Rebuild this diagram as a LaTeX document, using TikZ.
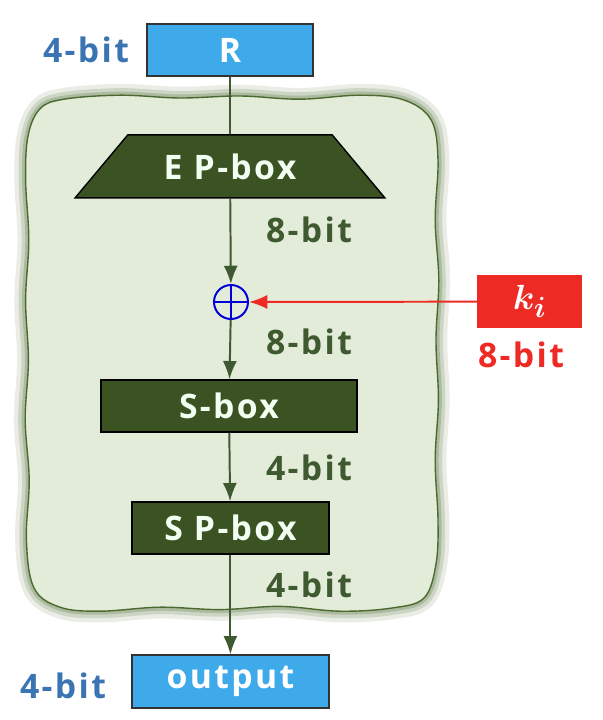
\documentclass[tikz,border=0pt]{standalone}
\usepackage{amsmath,amssymb}
\usepackage{fontspec}
\setmainfont{Open Sans}[LetterSpace=7]
\usepackage{xcolor}
\usepackage{tikz}
\usetikzlibrary{shapes.geometric,arrows.meta,positioning,calc}
\definecolor{boxblue}{HTML}{3FAAEA}
\definecolor{txtblue}{HTML}{3A74B2}
\definecolor{boxgreen}{HTML}{3B5323}
\definecolor{txtgreen}{HTML}{3F5A31}
\definecolor{bggreen}{HTML}{E3ECD8}
\definecolor{edgegreen}{HTML}{4B6A2F}
\definecolor{keyred}{HTML}{EE2A24}
\tikzstyle{iobox} = [rectangle, draw=black!80, line width=1pt, fill=boxblue, text=white, font=\bfseries\fontsize{24}{27}\selectfont]
\tikzstyle{stagebox} = [rectangle, draw=black, line width=1pt, fill=boxgreen, text=white!95!green, minimum height=1.3cm, font=\bfseries\fontsize{24}{27}\selectfont]
\tikzstyle{bits} = [font=\bfseries\fontsize{24}{27}\selectfont, text=txtgreen]
\tikzstyle{flow} = [draw=txtgreen, line width=1.4pt]
\tikzstyle{glow} = [preaction={draw=edgegreen, line width=16pt, opacity=0.12},
                    preaction={draw=edgegreen, line width=10pt, opacity=0.18},
                    preaction={draw=edgegreen, line width=5pt, opacity=0.25}]

\begin{document}
\begin{tikzpicture}
    \useasboundingbox (0,0) rectangle (15.075,18);

    % wavy frame
    \draw[glow, edgegreen, line width=1pt, fill=bggreen]
        plot[smooth cycle, tension=0.6] coordinates {
        (1.6,15.52) (3,15.62) (4.5,15.55) (6,15.6) (7.5,15.52) (9,15.62) (10.1,15.5)
        (10.78,15.0) (10.95,14) (10.88,12.5) (10.97,11) (10.9,9.5) (10.96,8) (10.88,6.5)
        (10.95,5) (10.9,3.9) (10.6,3.05) (9.8,2.8) (8.5,2.72) (7,2.84) (5.5,2.76)
        (4,2.82) (2.5,2.72) (1.5,2.82) (0.85,3.3) (0.66,4.5) (0.73,6) (0.63,7.5)
        (0.71,9) (0.64,10.5) (0.72,12) (0.64,13.5) (0.7,14.6) (1.0,15.28)};

    \node[iobox, minimum width=4.15cm, minimum height=1.3cm] (r) at (5.75,16.75) {R};
    \node[bits, text=txtblue] (rbits) at (2.15,16.75) {4-bit};

    \node[stagebox, trapezium, trapezium angle=44, trapezium stretches=true,
          minimum width=7.75cm, minimum height=1.575cm] (ep) at (5.75,13.84) {E P-box};
    \draw[flow] (r) -- (ep);
    \node[bits] (epbits) at (7.725,12.25) {8-bit};

    \node[circle, draw=blue!85!black, line width=1.4pt, minimum size=0.85cm, inner sep=0pt,
          path picture={\draw[blue!85!black, line width=1.4pt]
              (path picture bounding box.north) -- (path picture bounding box.south)
              (path picture bounding box.west) -- (path picture bounding box.east);}] (xor) at (5.775,10.45) {};
    \draw[flow, -{Latex[length=13pt,width=10pt]}] (ep) -- (xor);

    \node[rectangle, fill=keyred, text=white, minimum width=2.625cm, minimum height=1.325cm,
          font=\fontsize{28}{30}\selectfont] (key) at (13.24,10.46) {$\boldsymbol{k_i}$};
    \draw[keyred, line width=1.4pt, -{Latex[length=13pt,width=10pt]}] (key) -- (xor);
    \node[bits, text=keyred] (keybits) at (13.025,9.125) {8-bit};
    \node[bits] (xorbits) at (7.725,9.45) {8-bit};

    \node[stagebox, minimum width=6.4cm] (s) at (5.725,7.85) {S-box};
    \draw[flow, -{Latex[length=13pt,width=10pt]}] (xor) -- (s);
    \node[bits] (sbits) at (7.725,6.3) {4-bit};

    \node[stagebox, minimum width=4.925cm] (sp) at (5.76,4.8) {S P-box};
    \draw[flow, -{Latex[length=13pt,width=10pt]}] (s) -- (sp);
    \node[bits] (spbits) at (7.725,3.375) {4-bit};

    \node[iobox, minimum width=4.925cm, minimum height=1.325cm] (out) at (5.76,0.9625) {output};
    \draw[flow, -{Latex[length=13pt,width=10pt]}] (sp) -- (out);
    \node[bits, text=txtblue] (outbits) at (1.575,0.85) {4-bit};
\end{tikzpicture}
\end{document}
